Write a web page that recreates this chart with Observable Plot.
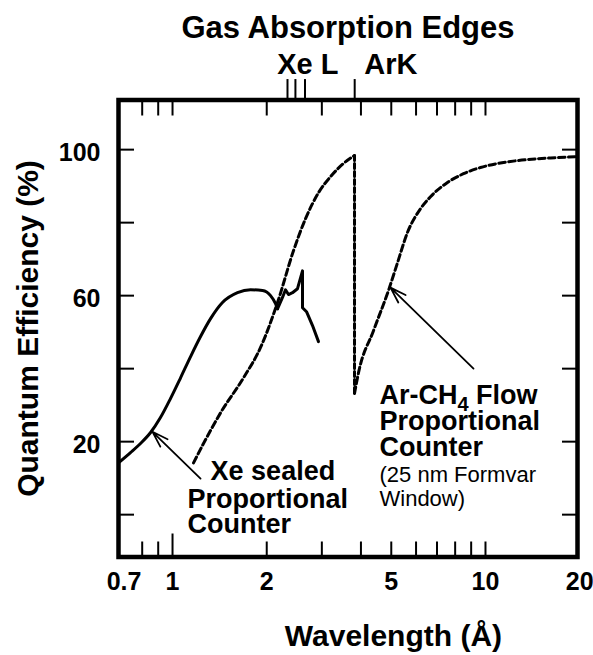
<!DOCTYPE html>
<html>
<head>
<meta charset="utf-8">
<script src="https://cdn.jsdelivr.net/npm/d3@7"></script>
<script src="https://cdn.jsdelivr.net/npm/@observablehq/plot@0.6"></script>
<style>
  html, body { margin: 0; padding: 0; background: #fff; }
</style>
</head>
<body>
<div id="chart"></div>
<script>
// Quantum efficiency (%) of two gas proportional counters versus X-ray wavelength (Å)

// Xe sealed proportional counter: smooth rise and roll-off, then the Xe L-edge structure
const xeSmooth = [
  [0.672, 14.2], [0.734, 17.0], [0.790, 19.5], [0.851, 22.5], [0.915, 26.6],
  [0.985, 31.8], [1.061, 37.5], [1.142, 43.3], [1.229, 48.8], [1.323, 53.7],
  [1.444, 58.1], [1.613, 60.8], [1.775, 61.6], [1.939, 61.4], [2.057, 60.0],
  [2.134, 57.8], [2.165, 56.4]
];
const xeEdgeZone = [
  [2.165, 56.4], [2.246, 59.5], [2.296, 61.6], [2.347, 60.3], [2.417, 60.8],
  [2.508, 61.9], [2.602, 66.8], [2.602, 56.7], [2.680, 55.6], [2.801, 51.8],
  [2.927, 47.4]
];

// Ar-CH4 flow proportional counter: below the Ar K edge, the drop, and above it
const arBelowEdge = [
  [1.167, 14.2], [1.256, 19.5], [1.424, 27.9], [1.686, 37.5], [1.911, 45.8],
  [2.165, 58.1], [2.435, 72.3], [2.661, 81.1], [2.927, 88.2], [3.198, 92.6],
  [3.518, 96.2], [3.815, 98.4]
];
const arEdgeDrop = [[3.815, 98.4], [3.815, 33.2]];
const arAboveEdge = [
  [3.815, 33.2], [3.929, 38.9], [4.387, 50.4], [4.898, 61.4], [5.234, 69.0],
  [5.632, 77.3], [6.199, 83.8], [6.673, 87.1], [7.560, 91.0], [8.505, 93.4],
  [9.638, 95.1], [10.92, 96.2], [12.66, 97.0], [14.66, 97.5], [16.98, 97.8],
  [19.68, 98.1]
];

// Gas absorption edge wavelengths (Å)
const xeLEdges = [2.33, 2.47, 2.65];
const arKEdges = [3.82];

// Axes
const xDomain = [0.672, 19.68];
const yDomain = [-11.6, 113.6];
const xMinorTicks = [0.8, 0.9, 2, 3, 4, 5, 6, 7, 8, 9, 10];
const xLongTicks = [1];
const xTickLabels = [0.7, 1, 2, 5, 10, 20];
const yTicks = [0, 20, 40, 60, 80, 100];
const yTickLabels = [20, 60, 100];

// Curve labels (anchor at the start of each line's baseline, data units)
const boldNotes = [
  {text: "Xe sealed", x: 1.323, y: 9.6},
  {text: "Proportional", x: 1.117, y: 1.9},
  {text: "Counter", x: 1.117, y: -4.9},
  {text: "Ar-CH4 Flow", x: 4.585, y: 30.4},
  {text: "Proportional", x: 4.585, y: 23.3},
  {text: "Counter", x: 4.585, y: 16.2}
];
const plainNotes = [
  {text: "(25 nm Formvar", x: 4.585, y: 9.0},
  {text: "Window)", x: 4.585, y: 2.5}
];
const pointers = [
  {x1: 1.229, y1: 9.9, x2: 0.863, y2: 22.7},
  {x1: 9.157, y1: 40.0, x2: 4.972, y2: 62.2}
];
const xeEdgeLabel = {text: "Xe L", x: 3.39};
const arEdgeLabel = {text: "ArK", x: 4.10};
const title = "Gas Absorption Edges";
const xLabel = {text: "Wavelength (Å)", x: 5.08};
const yLabel = "Quantum Efficiency (%)";

const FONT = '"Liberation Sans", Arial, Helvetica, sans-serif';
const px = (d) => d[0];
const py = (d) => d[1];

const chart = Plot.plot({
  width: 593,
  height: 655,
  marginLeft: 118,
  marginRight: 16,
  marginTop: 99.5,
  marginBottom: 98.5,
  style: {fontFamily: FONT, background: "#fff", color: "#000", overflow: "visible"},
  x: {type: "log", domain: xDomain},
  y: {domain: yDomain},
  marks: [
    // inward tick marks on all four sides
    Plot.axisX({anchor: "bottom", ticks: xMinorTicks, tickSize: -15, strokeWidth: 2, tickFormat: () => "", label: null}),
    Plot.axisX({anchor: "bottom", ticks: xLongTicks, tickSize: -23, strokeWidth: 2, tickFormat: () => "", label: null}),
    Plot.axisX({anchor: "top", ticks: [...xMinorTicks, ...xLongTicks], tickSize: -15, strokeWidth: 2, tickFormat: () => "", label: null}),
    Plot.axisY({anchor: "left", ticks: yTicks, tickSize: -16, strokeWidth: 2, tickFormat: () => "", label: null}),
    Plot.axisY({anchor: "right", ticks: yTicks, tickSize: -16, strokeWidth: 2, tickFormat: () => "", label: null}),

    // tick labels
    Plot.axisX({anchor: "bottom", ticks: xTickLabels, tickSize: 0, tickPadding: 15, tickFormat: (d) => String(d),
      fontSize: 25, fontWeight: "bold", label: null}),
    Plot.axisY({anchor: "left", ticks: yTickLabels, tickSize: 0, tickPadding: 18, dy: 3,
      fontSize: 25, fontWeight: "bold", label: null}),

    // absorption edge markers above the frame
    Plot.ruleX([...xeLEdges, ...arKEdges], {y1: yDomain[1], y2: yDomain[1] + 5.6, strokeWidth: 2}),
    Plot.text([xeEdgeLabel], {x: "x", text: "text", textAnchor: "end", frameAnchor: "top", dy: -26.5,
      lineAnchor: "bottom", fontSize: 29, fontWeight: "bold"}),
    Plot.text([arEdgeLabel], {x: "x", text: "text", textAnchor: "start", frameAnchor: "top", dy: -26.5,
      lineAnchor: "bottom", fontSize: 29, fontWeight: "bold"}),
    Plot.text([title], {frameAnchor: "top", textAnchor: "middle", dy: -62.5, lineAnchor: "bottom",
      fontSize: 31, fontWeight: "bold"}),

    // curves
    Plot.line(xeSmooth, {x: px, y: py, strokeWidth: 3, curve: "monotone-x"}),
    Plot.line(xeEdgeZone, {x: px, y: py, strokeWidth: 3, strokeLinejoin: "round"}),
    Plot.line(arBelowEdge, {x: px, y: py, strokeWidth: 3, strokeDasharray: "6.5,3.5", curve: "monotone-x"}),
    Plot.line(arEdgeDrop, {x: px, y: py, strokeWidth: 3, strokeDasharray: "5,3"}),
    Plot.line(arAboveEdge, {x: px, y: py, strokeWidth: 3, strokeDasharray: "6.5,3.5", curve: "monotone-x"}),

    // annotations
    Plot.arrow(pointers, {x1: "x1", y1: "y1", x2: "x2", y2: "y2", strokeWidth: 1.8, headLength: 14, headAngle: 36}),
    Plot.text(boldNotes, {x: "x", y: "y", text: "text", textAnchor: "start", lineAnchor: "bottom",
      fontSize: 27, fontWeight: "bold"}),
    Plot.text(plainNotes, {x: "x", y: "y", text: "text", textAnchor: "start", lineAnchor: "bottom",
      fontSize: 22}),

    // axis titles
    Plot.text([yLabel], {frameAnchor: "left", textAnchor: "middle", dx: -90, rotate: -90,
      fontSize: 30, fontWeight: "bold"}),
    Plot.text([xLabel], {x: "x", text: "text", textAnchor: "middle", frameAnchor: "bottom", dy: 88.5,
      lineAnchor: "bottom", fontSize: 30, fontWeight: "bold"}),

    Plot.frame({strokeWidth: 4.5})
  ]
});

// subscript for the methane formula
d3.select(chart).selectAll("text")
  .filter(function () { return this.textContent === "Ar-CH4 Flow"; })
  .each(function () {
    const t = d3.select(this);
    t.text(null);
    t.append("tspan").text("Ar-CH");
    t.append("tspan").attr("dy", 7).attr("font-size", 20).text("4");
    t.append("tspan").attr("dy", -7).text(" Flow");
  });

document.getElementById("chart").appendChild(chart);
</script>
</body>
</html>
